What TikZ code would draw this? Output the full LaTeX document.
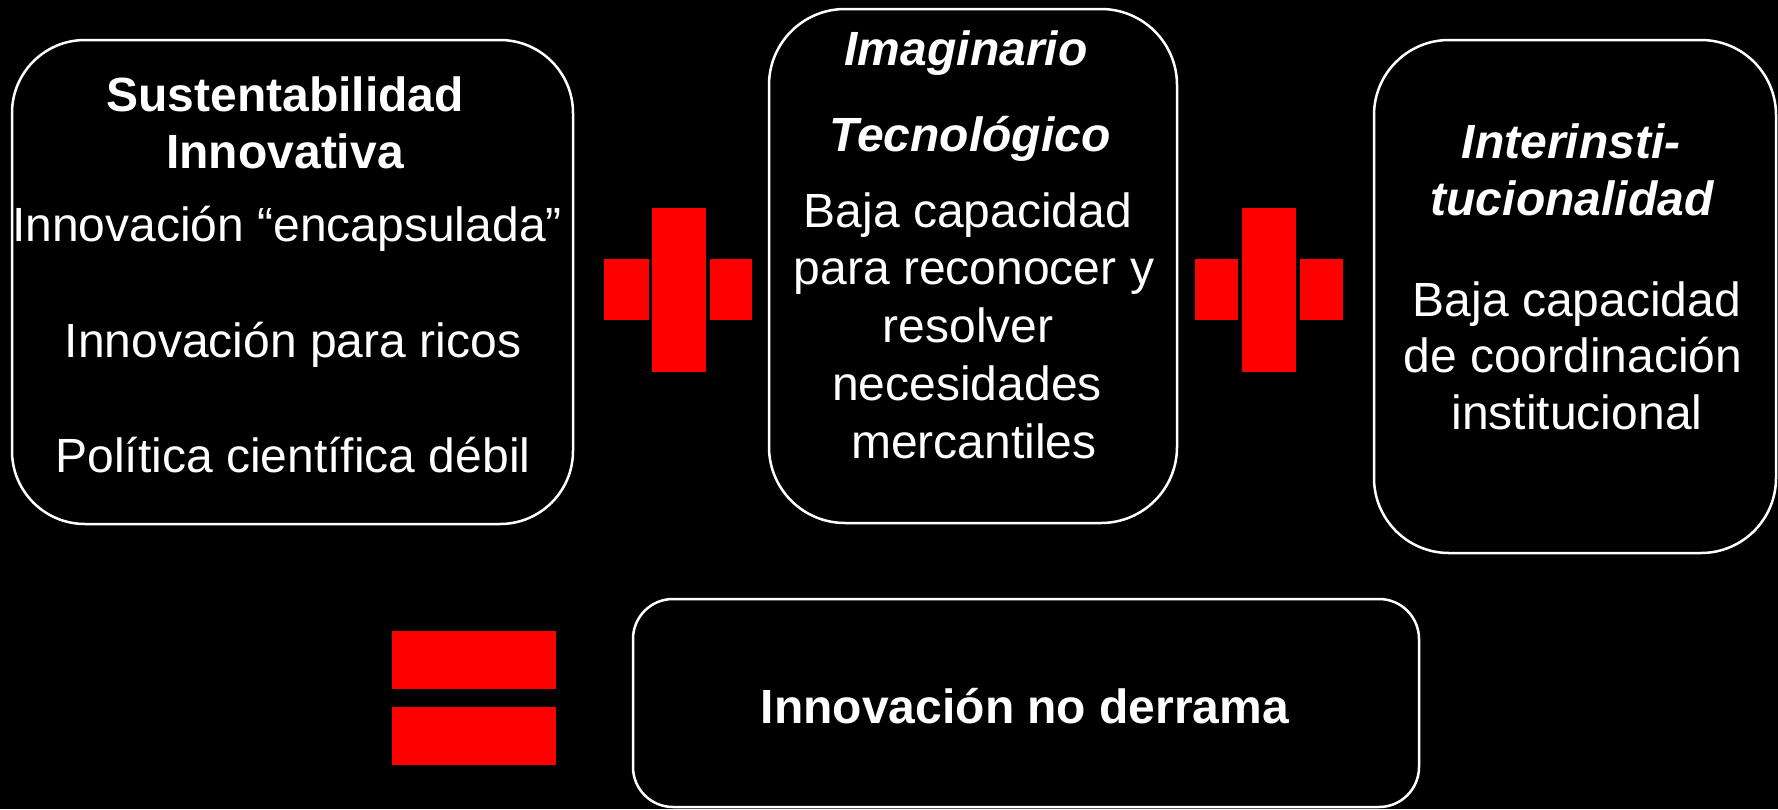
\documentclass[tikz,border=0pt]{standalone}
\usepackage{fontspec}
\setmainfont{Liberation Sans}
\begin{document}
\begin{tikzpicture}[x=1pt,y=-1pt,
  box/.style={draw=white, line width=2.5pt, fill=black, inner sep=0pt},
  redbar/.style={fill=red, draw=none, inner sep=0pt, minimum width=#1},
  txt/.style={text=white, font=\fontsize{48}{56}\selectfont, anchor=base, inner sep=0pt},
  ttl/.style={text=white, font=\fontsize{48}{56}\selectfont\bfseries, anchor=base, inner sep=0pt},
  ittl/.style={text=white, font=\fontsize{48}{56}\selectfont\bfseries\itshape, anchor=base, inner sep=0pt}]
\useasboundingbox (0,0) rectangle (1778,809);
\fill[black] (0,0) rectangle (1778,809);

% boxes
\node[box, rounded corners=73pt, minimum width=561pt, minimum height=484pt] (b1) at (292.5,282) {};
\node[box, rounded corners=76pt, minimum width=408pt, minimum height=514pt] (b2) at (973,266) {};
\node[box, rounded corners=75pt, minimum width=402pt, minimum height=513pt] (b3) at (1575,296.5) {};
\node[box, rounded corners=40pt, minimum width=786pt, minimum height=208pt] (b4) at (1026,703) {};

% box 1 text
\node[ttl] (t11) at (285,111) {Sustentabilidad};
\node[ttl] (t12) at (285,168) {Innovativa};
\node[txt] (t13) at (287,241) {Innovación “encapsulada”};
\node[txt] (t14) at (293,357) {Innovación para ricos};
\node[txt] (t15) at (293,472) {Política científica débil};

% box 2 text
\node[ittl] (t21) at (966,65) {Imaginario};
\node[ittl] (t22) at (970,151) {Tecnológico};
\node[txt] (t23) at (968,227) {Baja capacidad};
\node[txt] (t24) at (974,284) {para reconocer y};
\node[txt] (t25) at (968,342) {resolver};
\node[txt] (t26) at (967,400) {necesidades};
\node[txt] (t27) at (974,458) {mercantiles};

% box 3 text
\node[ittl] (t31) at (1571,158) {Interinsti-};
\node[ittl] (t32) at (1572,215) {tucionalidad};
\node[txt] (t33) at (1577,316) {Baja capacidad};
\node[txt] (t34) at (1573,372) {de coordinación};
\node[txt] (t35) at (1577,429) {institucional};

% box 4 text
\node[ttl] (t41) at (1025,723) {Innovación no derrama};

% plus 1
\node[redbar=54pt, minimum height=164pt] (p1v) at (679,289.5) {};
\node[redbar=45pt, minimum height=61pt] (p1l) at (626.5,289.5) {};
\node[redbar=42pt, minimum height=61pt] (p1r) at (731,289.5) {};

% plus 2
\node[redbar=54pt, minimum height=164pt] (p2v) at (1269,289.5) {};
\node[redbar=43pt, minimum height=61pt] (p2l) at (1216.5,289.5) {};
\node[redbar=43pt, minimum height=61pt] (p2r) at (1321.5,289.5) {};

% equals
\node[redbar=164pt, minimum height=58pt] (e1) at (474,660) {};
\node[redbar=164pt, minimum height=58pt] (e2) at (474,736) {};
\end{tikzpicture}
\end{document}
